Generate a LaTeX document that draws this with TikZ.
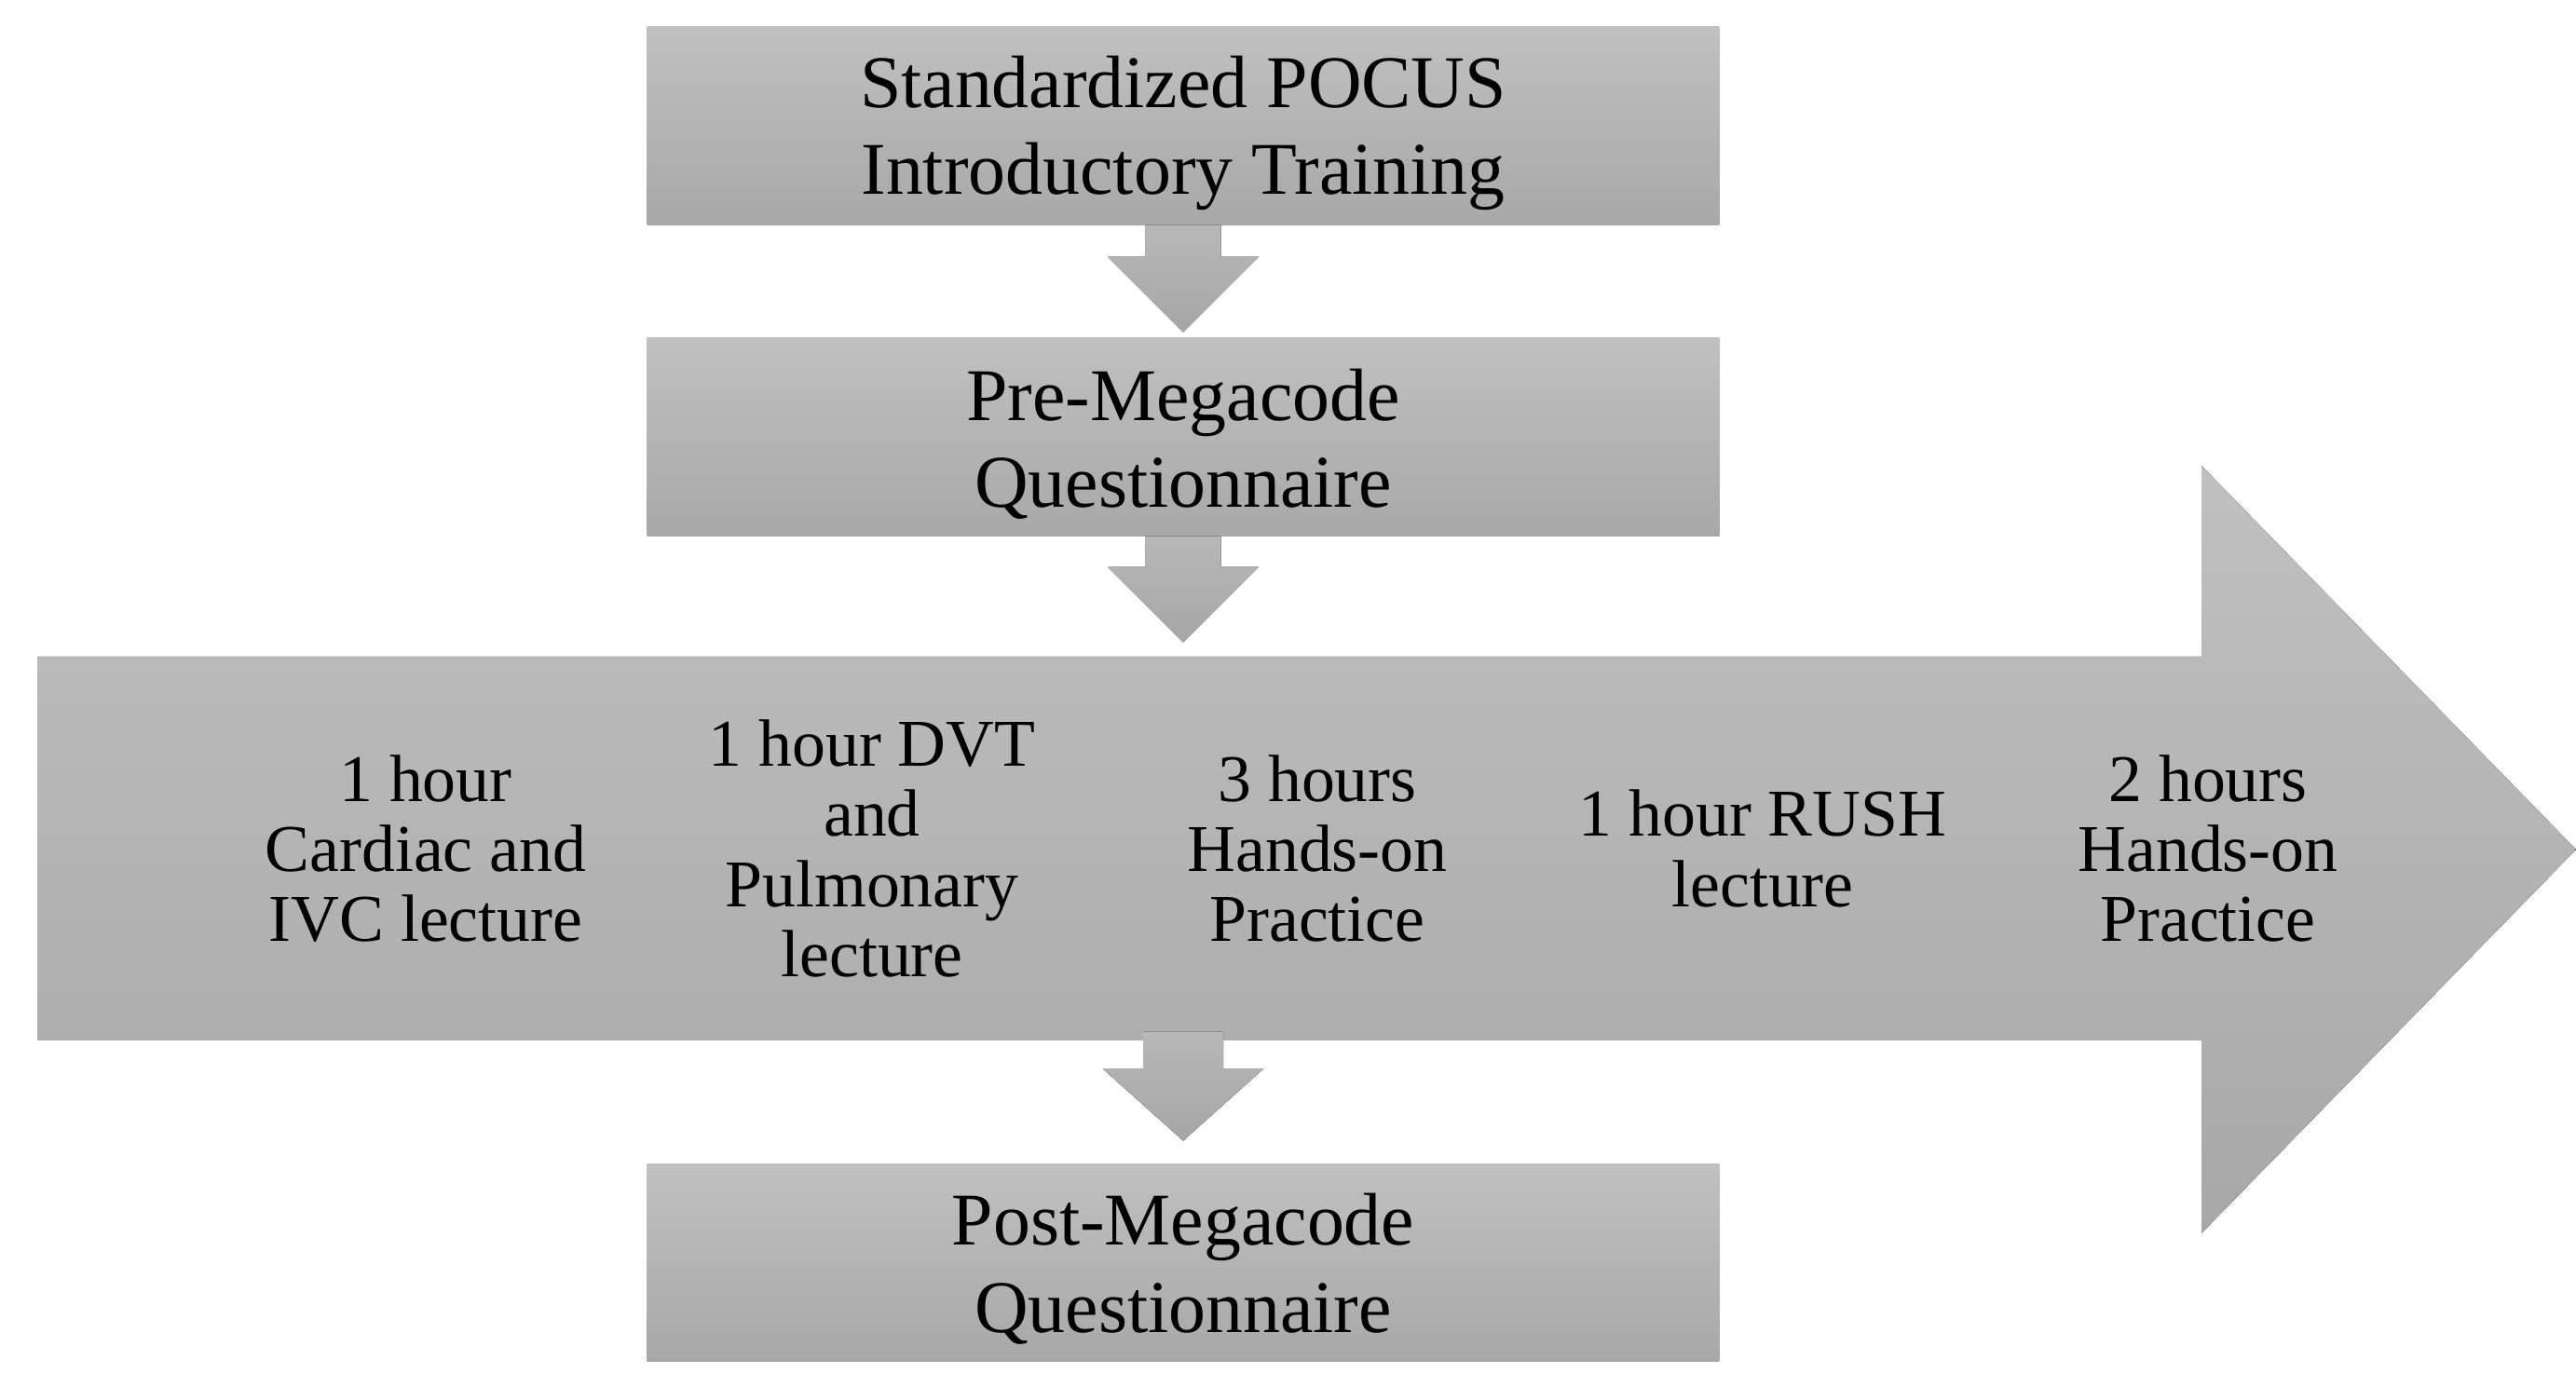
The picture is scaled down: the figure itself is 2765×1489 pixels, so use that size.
\documentclass[tikz,border=0pt]{standalone}
\usepackage{fontspec}
\setmainfont{Liberation Serif}
\usetikzlibrary{calc}
\definecolor{gtop}{RGB}{192,192,192}
\definecolor{gbot}{RGB}{168,168,168}
\definecolor{atop}{RGB}{184,184,184}
\definecolor{abot}{RGB}{166,166,166}
\begin{document}
\begin{tikzpicture}[x=0.01cm,y=0.01cm,
  box/.style={rectangle, minimum width=11.5cm, minimum height=2.12cm, inner sep=0pt,
    top color=gtop, bottom color=gbot, draw=none},
  boxtext/.style={align=center, inner sep=0pt, font=\fontsize{22.7}{26.6}\selectfont},
  sarrow/.style={top color=atop, bottom color=abot, draw=none},
  bigarrow/.style={top color=gtop, bottom color=gbot, draw=none},
  steptext/.style={align=center, inner sep=0pt, font=\fontsize{20.4}{21.4}\selectfont}]
\useasboundingbox (0,0) rectangle (2765,1489);

\node[box] (b1) at (1270,1354) {};
\node[box] (b2) at (1270,1020) {};
\node[box] (b3) at (1270,133.5) {};
\node[boxtext] (t1) at ($(b1.center)+(0,-8)$) {Standardized POCUS\\Introductory Training};
\node[boxtext] (t2) at ($(b2.center)+(0,-8)$) {Pre-Megacode\\Questionnaire};
\node[boxtext] (t3) at ($(b3.center)+(0,-7)$) {Post-Megacode\\Questionnaire};

% arrow 1
\coordinate (a1) at (b1.south);
\fill[sarrow] ($(a1)+(-40.5,0)$) -- ($(a1)+(40.5,0)$) -- ($(a1)+(40.5,-34)$) -- ($(a1)+(81,-34)$)
  -- ($(a1)+(0,-115)$) -- ($(a1)+(-81,-34)$) -- ($(a1)+(-40.5,-34)$) -- cycle;
% arrow 2
\coordinate (a2) at (b2.south);
\fill[sarrow] ($(a2)+(-40.5,0)$) -- ($(a2)+(40.5,0)$) -- ($(a2)+(40.5,-33)$) -- ($(a2)+(81,-33)$)
  -- ($(a2)+(0,-114)$) -- ($(a2)+(-81,-33)$) -- ($(a2)+(-40.5,-33)$) -- cycle;

% big arrow
\coordinate (tip) at (2765,577);
\fill[bigarrow] (40,784) -- (2363,784) -- (2363,989) -- (tip) -- (2363,165) -- (2363,372) -- (40,372) -- cycle;

\node[steptext] (s1) at (457,578) {1 hour\\Cardiac and\\IVC lecture};
\node[steptext] (s2) at (936,578) {1 hour DVT\\and\\Pulmonary\\lecture};
\node[steptext] (s3) at (1414,578) {3 hours\\Hands-on\\Practice};
\node[steptext] (s4) at (1892,578) {1 hour RUSH\\lecture};
\node[steptext] (s5) at (2370,578) {2 hours\\Hands-on\\Practice};

% arrow 3
\coordinate (a3) at (b3.north);
\fill[sarrow] ($(a3)+(-43,141)$) -- ($(a3)+(43,141)$) -- ($(a3)+(43,101)$) -- ($(a3)+(86,101)$)
  -- ($(a3)+(0,24)$) -- ($(a3)+(-86,101)$) -- ($(a3)+(-43,101)$) -- cycle;
\end{tikzpicture}
\end{document}
